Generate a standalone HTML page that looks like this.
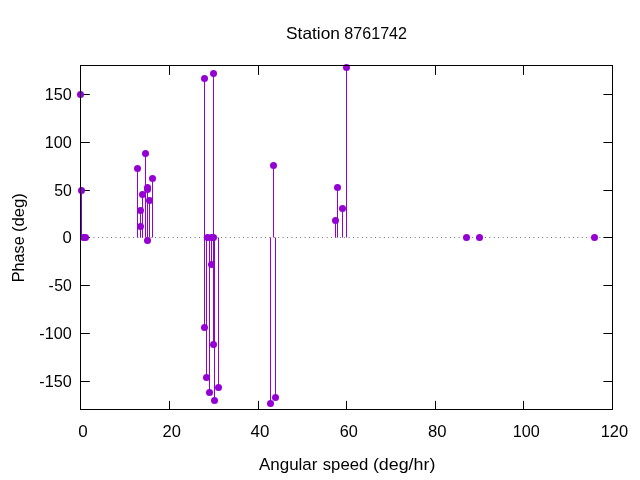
<!DOCTYPE html>
<html lang="en">
<head>
<meta charset="utf-8">
<title>Station 8761742</title>
<style>
html,body{margin:0;padding:0;background:#fff;}
body{width:640px;height:480px;overflow:hidden;}
svg{display:block;}
text{font-family:"Liberation Sans",sans-serif;font-size:16px;fill:#000;}
</style>
</head>
<body>
<svg width="640" height="480" viewBox="0 0 640 480">
<rect x="0" y="0" width="640" height="480" fill="#ffffff"/>
<g stroke="#000" stroke-width="1" fill="none">
<path d="M169.5,409.5V400.9M169.5,65.5V74.9"/>
<path d="M258.5,409.5V400.9M258.5,65.5V74.9"/>
<path d="M346.5,409.5V400.9M346.5,65.5V74.9"/>
<path d="M435.5,409.5V400.9M435.5,65.5V74.9"/>
<path d="M523.5,409.5V400.9M523.5,65.5V74.9"/>
<path d="M80.5,94.5H89.8M612.5,94.5H603.4"/>
<path d="M80.5,142.5H89.8M612.5,142.5H603.4"/>
<path d="M80.5,190.5H89.8M612.5,190.5H603.4"/>
<path d="M80.5,237.5H89.8M612.5,237.5H603.4"/>
<path d="M80.5,285.5H89.8M612.5,285.5H603.4"/>
<path d="M80.5,333.5H89.8M612.5,333.5H603.4"/>
<path d="M80.5,381.5H89.8M612.5,381.5H603.4"/>
</g>
<path d="M80.3,237.5H612.5" stroke="#000" stroke-opacity="0.7" stroke-width="1" stroke-dasharray="0.8 3.6" fill="none"/>
<g stroke="#9400d3" stroke-width="1" fill="none">
<path d="M80.5,237.5V94.5"/>
<path d="M81.5,237.5V190.5"/>
<path d="M137.5,237.5V168.5"/>
<path d="M140.5,237.5V210.5"/>
<path d="M140.5,237.5V226.5"/>
<path d="M142.5,237.5V194.5"/>
<path d="M145.5,237.5V153.5"/>
<path d="M147.5,237.5V187.5"/>
<path d="M147.5,237.5V189.5"/>
<path d="M147.5,237.5V240.5"/>
<path d="M149.5,237.5V200.5"/>
<path d="M152.5,237.5V178.5"/>
<path d="M204.5,237.5V78.5"/>
<path d="M204.5,237.5V327.5"/>
<path d="M206.5,237.5V377.5"/>
<path d="M209.5,237.5V392.5"/>
<path d="M211.5,237.5V264.5"/>
<path d="M213.5,237.5V73.5"/>
<path d="M213.5,237.5V344.5"/>
<path d="M214.5,237.5V400.5"/>
<path d="M218.5,237.5V387.5"/>
<path d="M270.5,237.5V403.5"/>
<path d="M273.5,237.5V165.5"/>
<path d="M275.5,237.5V397.5"/>
<path d="M335.5,237.5V220.5"/>
<path d="M337.5,237.5V187.5"/>
<path d="M342.5,237.5V208.5"/>
<path d="M346.5,237.5V67.5"/>
</g>
<g fill="#9400d3" stroke="none">
<circle cx="80.5" cy="94.5" r="3.5"/>
<circle cx="81.5" cy="190.5" r="3.5"/>
<circle cx="83.5" cy="237.5" r="3.5"/>
<circle cx="85.5" cy="237.5" r="3.5"/>
<circle cx="137.5" cy="168.5" r="3.5"/>
<circle cx="140.5" cy="210.5" r="3.5"/>
<circle cx="140.5" cy="226.5" r="3.5"/>
<circle cx="142.5" cy="194.5" r="3.5"/>
<circle cx="145.5" cy="153.5" r="3.5"/>
<circle cx="147.5" cy="187.5" r="3.5"/>
<circle cx="147.5" cy="189.5" r="3.5"/>
<circle cx="147.5" cy="240.5" r="3.5"/>
<circle cx="149.5" cy="200.5" r="3.5"/>
<circle cx="152.5" cy="178.5" r="3.5"/>
<circle cx="204.5" cy="78.5" r="3.5"/>
<circle cx="204.5" cy="327.5" r="3.5"/>
<circle cx="206.5" cy="377.5" r="3.5"/>
<circle cx="207.5" cy="237.5" r="3.5"/>
<circle cx="209.5" cy="392.5" r="3.5"/>
<circle cx="211.5" cy="237.5" r="3.5"/>
<circle cx="211.5" cy="264.5" r="3.5"/>
<circle cx="213.5" cy="73.5" r="3.5"/>
<circle cx="213.5" cy="237.5" r="3.5"/>
<circle cx="213.5" cy="344.5" r="3.5"/>
<circle cx="214.5" cy="400.5" r="3.5"/>
<circle cx="218.5" cy="387.5" r="3.5"/>
<circle cx="270.5" cy="403.5" r="3.5"/>
<circle cx="273.5" cy="165.5" r="3.5"/>
<circle cx="275.5" cy="397.5" r="3.5"/>
<circle cx="335.5" cy="220.5" r="3.5"/>
<circle cx="337.5" cy="187.5" r="3.5"/>
<circle cx="342.5" cy="208.5" r="3.5"/>
<circle cx="346.5" cy="67.5" r="3.5"/>
<circle cx="466.5" cy="237.5" r="3.5"/>
<circle cx="479.5" cy="237.5" r="3.5"/>
<circle cx="594.5" cy="237.5" r="3.5"/>
</g>
<rect x="80.5" y="65.5" width="532.0" height="344.0" fill="none" stroke="#000" stroke-width="1"/>
<g style="will-change:opacity;opacity:0.999">
<text transform="translate(286.04,38.80) scale(1.0832,1.03)">Station</text>
<text transform="translate(344.29,38.80) scale(1.0082,1.03)">8761742</text>
<text transform="translate(258.94,469.80) scale(1.0620,1.03)">Angular</text>
<text transform="translate(322.73,469.80) scale(1.0451,1.03)">speed</text>
<text transform="translate(372.88,469.80) scale(1.1167,1.03)">(deg/hr)</text>
<text transform="translate(24.00,0) rotate(-90) translate(-282.21,0) scale(1.0115,1.03)">Phase</text>
<text transform="translate(24.00,0) rotate(-90) translate(-232.04,0) scale(1.0424,1.03)">(deg)</text>
<text transform="translate(78.16,437.00) scale(1.0649,1.03)">0</text>
<text transform="translate(162.58,437.00) scale(1.0305,1.03)">20</text>
<text transform="translate(250.58,437.00) scale(1.0595,1.03)">40</text>
<text transform="translate(339.69,437.00) scale(1.0183,1.03)">60</text>
<text transform="translate(428.07,437.00) scale(1.0424,1.03)">80</text>
<text transform="translate(512.79,437.00) scale(1.0120,1.03)">100</text>
<text transform="translate(600.67,437.00) scale(1.0281,1.03)">120</text>
<text transform="translate(44.79,100.30) scale(1.0120,1.03)">150</text>
<text transform="translate(44.79,148.30) scale(1.0120,1.03)">100</text>
<text transform="translate(54.21,196.30) scale(0.9879,1.03)">50</text>
<text transform="translate(62.58,243.30) scale(1.0390,1.03)">0</text>
<text transform="translate(54.21,291.30) scale(0.9879,1.03)" x="-5.70 0">-50</text>
<text transform="translate(44.79,339.30) scale(1.0120,1.03)" x="-5.40 0">-100</text>
<text transform="translate(44.79,387.30) scale(1.0120,1.03)" x="-5.40 0">-150</text>
</g>
</svg>
</body>
</html>
